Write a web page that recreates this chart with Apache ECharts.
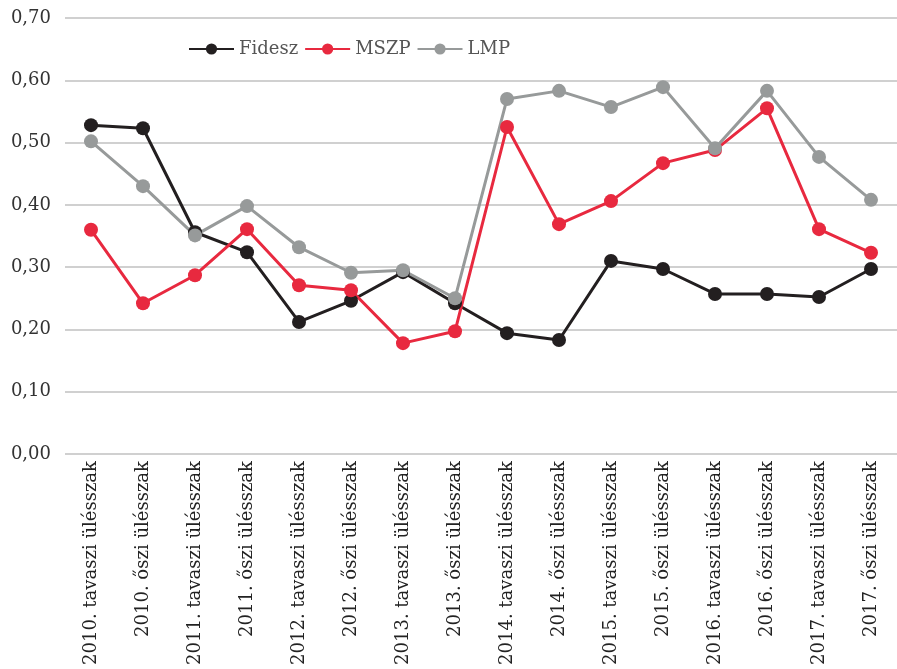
<!DOCTYPE html>
<html>
<head>
<meta charset="utf-8">
<script src="https://cdn.jsdelivr.net/npm/echarts@6/dist/echarts.min.js"></script>
<style>html,body{margin:0;padding:0;background:#fff}#c{width:897px;height:669px}</style>
</head>
<body>
<div id="c"></div>
<script>
const categories = [
  "2010. tavaszi ülésszak","2010. őszi ülésszak",
  "2011. tavaszi ülésszak","2011. őszi ülésszak",
  "2012. tavaszi ülésszak","2012. őszi ülésszak",
  "2013. tavaszi ülésszak","2013. őszi ülésszak",
  "2014. tavaszi ülésszak","2014. őszi ülésszak",
  "2015. tavaszi ülésszak","2015. őszi ülésszak",
  "2016. tavaszi ülésszak","2016. őszi ülésszak",
  "2017. tavaszi ülésszak","2017. őszi ülésszak"
];
const fidesz = [0.528,0.523,0.356,0.324,0.212,0.246,0.292,0.242,0.194,0.183,0.310,0.297,0.257,0.257,0.252,0.297];
const mszp   = [0.360,0.242,0.287,0.361,0.271,0.263,0.178,0.197,0.525,0.369,0.406,0.467,0.488,0.555,0.361,0.323];
const lmp    = [0.502,0.430,0.351,0.398,0.332,0.291,0.295,0.250,0.570,0.583,0.557,0.589,0.491,0.583,0.477,0.408];

const FONT = "DejaVu Serif";
const chart = echarts.init(document.getElementById('c'));
function s(name, data, color) {
  return {
    name, type: 'line', data,
    symbol: 'circle', symbolSize: 14,
    lineStyle: { color, width: 3 },
    itemStyle: { color },
    animation: false
  };
}
chart.setOption({
  animation: false,
  grid: { left: 65, right: -8, top: 18, bottom: 215, containLabel: false },
  legend: {
    top: 35, left: 183,
    itemWidth: 45, itemHeight: 14, itemGap: 6,
    textStyle: { fontFamily: FONT, fontSize: 18, color: '#555' },
    data: ['Fidesz','MSZP','LMP']
  },
  xAxis: {
    type: 'category', data: categories, boundaryGap: true,
    axisLine: { show: false }, axisTick: { show: false },
    axisLabel: { rotate: 90, interval: 0, margin: 7, fontFamily: FONT, fontSize: 18, color: '#222' }
  },
  yAxis: {
    type: 'value', min: 0, max: 0.7, interval: 0.1,
    axisLine: { show: false }, axisTick: { show: false },
    splitLine: { lineStyle: { color: '#d0d0d0', width: 2 } },
    axisLabel: { margin: 14, fontFamily: FONT, fontSize: 18, color: '#333',
      formatter: v => v.toFixed(2).replace('.', ',') }
  },
  series: [
    s('Fidesz', fidesz, '#231f20'),
    s('MSZP', mszp, '#e8293f'),
    s('LMP', lmp, '#979a9a')
  ]
});
</script>
</body>
</html>
